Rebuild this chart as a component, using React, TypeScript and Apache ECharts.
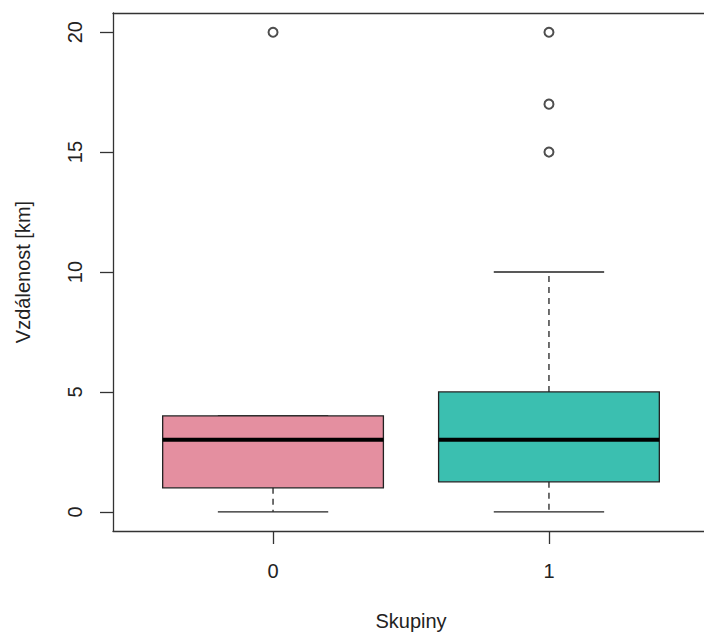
import React, { useEffect, useRef } from "react";
import * as echarts from "echarts";

const categories = ["0", "1"];
const positions = [1, 2];
const whiskerLow = [0, 0];
const q1 = [1, 1.25];
const median = [3, 3];
const q3 = [4, 5];
const whiskerHigh = [4, 10];
const outlierGroup = [0, 1, 1, 1];
const outlierValue = [20, 15, 17, 20];
const yTicks = [0, 5, 10, 15, 20];
const fillColors = ["#E48FA0", "#3BBFB0"];

const FONT = "'Liberation Sans', Arial, sans-serif";
const LINE = { color: "#333", width: 1.3 };

export default function App() {
  const ref = useRef<HTMLDivElement>(null);
  useEffect(() => {
    if (!ref.current) return;
    const chart = echarts.init(ref.current, null, { renderer: "svg" });
    const boxData = positions.map((p, i) => [p, whiskerLow[i], q1[i], median[i], q3[i], whiskerHigh[i], i]);
    const outData = outlierGroup.map((g, i) => [positions[g], outlierValue[i]]);
    chart.setOption({
      animation: false,
      backgroundColor: "#ffffff",
      grid: {
        left: 113,
        top: 13,
        right: 5,
        bottom: 106,
        show: false,
      },
      xAxis: [
        {
          type: "value",
          min: 0.42,
          max: 2.58,
          name: "Skupiny",
          nameLocation: "middle",
          nameGap: 80,
          nameTextStyle: { fontSize: 20, color: "#222", fontFamily: FONT },
          axisLine: { show: true, onZero: false, lineStyle: LINE },
          splitLine: { show: false },
          axisTick: {
            show: true,
            customValues: positions,
            length: 13,
            lineStyle: LINE,
          },
          axisLabel: {
            customValues: positions,
            formatter: (v: number) => categories[Math.round(v) - 1] ?? "",
            fontSize: 20,
            color: "#222",
            fontFamily: FONT,
            margin: 30,
          },
        },
        {
          type: "value",
          position: "top",
          min: 0.42,
          max: 2.58,
          axisLine: { show: true, onZero: false, lineStyle: LINE },
          axisTick: { show: false },
          axisLabel: { show: false },
          splitLine: { show: false },
        },
      ],
      yAxis: {
        type: "value",
        min: -0.8,
        max: 20.8,
        name: "Vzdálenost [km]",
        nameLocation: "middle",
        nameGap: 80,
        nameRotate: 90,
        nameTextStyle: { fontSize: 20, color: "#222", fontFamily: FONT },
        axisLine: { show: true, onZero: false, lineStyle: LINE },
        splitLine: { show: false },
        axisTick: {
          show: true,
          customValues: yTicks,
          length: 13,
          lineStyle: LINE,
        },
        axisLabel: {
          customValues: yTicks,
          rotate: 90,
          fontSize: 20,
          color: "#222",
          fontFamily: FONT,
          margin: 28,
        },
      },
      series: [
        {
          type: "custom",
          data: boxData,
          encode: { x: 0, y: [1, 2, 3, 4, 5] },
          renderItem: (params: any, api: any) => {
            const x = api.value(0);
            const lo = api.value(1);
            const b1 = api.value(2);
            const md = api.value(3);
            const b3 = api.value(4);
            const hi = api.value(5);
            const idx = api.value(6);
            const bw = api.size([0.8, 0])[0];
            const cw = api.size([0.4, 0])[0];
            const pLo = api.coord([x, lo]);
            const p1 = api.coord([x, b1]);
            const pM = api.coord([x, md]);
            const p3 = api.coord([x, b3]);
            const pHi = api.coord([x, hi]);
            const cx = pM[0];
            const children: any[] = [];
            const dash = { stroke: "#222", lineWidth: 1.3, lineDash: [6, 5] };
            children.push({
              type: "line",
              shape: { x1: cx, y1: p1[1], x2: cx, y2: pLo[1] },
              style: dash,
            });
            if (hi > b3) {
              children.push({
                type: "line",
                shape: { x1: cx, y1: p3[1], x2: cx, y2: pHi[1] },
                style: dash,
              });
            }
            children.push({
              type: "line",
              shape: { x1: cx - cw / 2, y1: pLo[1], x2: cx + cw / 2, y2: pLo[1] },
              style: { stroke: "#222", lineWidth: 1.3 },
            });
            children.push({
              type: "line",
              shape: { x1: cx - cw / 2, y1: pHi[1], x2: cx + cw / 2, y2: pHi[1] },
              style: { stroke: "#222", lineWidth: 1.3 },
            });
            children.push({
              type: "rect",
              shape: { x: cx - bw / 2, y: p3[1], width: bw, height: p1[1] - p3[1] },
              style: { fill: fillColors[idx], stroke: "#222", lineWidth: 1.3 },
            });
            children.push({
              type: "line",
              shape: { x1: cx - bw / 2, y1: pM[1], x2: cx + bw / 2, y2: pM[1] },
              style: { stroke: "#000", lineWidth: 4 },
            });
            return { type: "group", children };
          },
        },
        {
          type: "scatter",
          data: outData,
          symbol: "emptyCircle",
          symbolSize: 9,
          itemStyle: { color: "#222", borderColor: "#222", borderWidth: 1.2 },
        },
      ],
    });
    return () => chart.dispose();
  }, []);
  return (
    <div
      style={{
        position: "absolute",
        left: 0,
        top: 0,
        width: 704,
        height: 637,
        overflow: "hidden",
        background: "#fff",
      }}
    >
      <div ref={ref} style={{ width: 714, height: 637 }} />
    </div>
  );
}
